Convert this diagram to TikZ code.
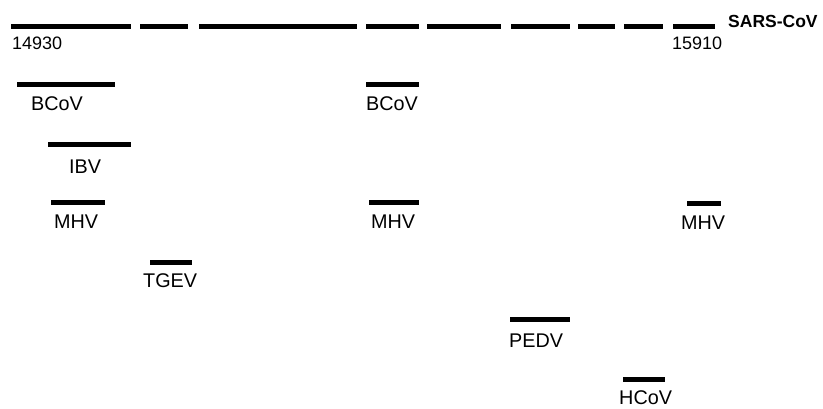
\documentclass[tikz,border=0pt]{standalone}
\usepackage{fontspec}
\setmainfont{Liberation Sans}
\begin{document}
\begin{tikzpicture}[x=1pt,y=-1pt,
  seg/.style={line width=5pt,line cap=butt,black},
  lbl/.style={anchor=base west,inner sep=0pt,font=\fontsize{19.8}{22}\selectfont},
  numlbl/.style={anchor=base west,inner sep=0pt,font=\fontsize{18}{20}\selectfont},
  genome/.style={anchor=base west,inner sep=0pt,font=\fontsize{17.5}{20}\selectfont\bfseries}]
\useasboundingbox (0,0) rectangle (823,408);
% SARS-CoV reference genome segments
\foreach \a/\b in {11/131,140/188,199/357,366/419,427/501,511/570,578/615,624/663,673/715}
  \draw[seg] (\a,26.5) -- (\b,26.5);
\node[genome] (sars) at (728,27) {SARS-CoV};
\node[numlbl] (start) at (12,49) {14930};
\node[numlbl] (stop) at (672,49) {15910};
% homologous regions in other coronaviruses
\draw[seg] (17,84.5) -- (115,84.5);
\node[lbl] (bcov1) at (31,110) {BCoV};
\draw[seg] (366,84.5) -- (419,84.5);
\node[lbl] (bcov2) at (366,110) {BCoV};
\draw[seg] (48,144.5) -- (131,144.5);
\node[lbl] (ibv) at (69,173) {IBV};
\draw[seg] (51,202) -- (105,202);
\node[lbl] (mhv1) at (54,228) {MHV};
\draw[seg] (369,202.5) -- (419,202.5);
\node[lbl] (mhv2) at (371,228) {MHV};
\draw[seg] (687,203) -- (721,203);
\node[lbl] (mhv3) at (681,229) {MHV};
\draw[seg] (150,262) -- (192,262);
\node[lbl] (tgev) at (143,287) {TGEV};
\draw[seg] (510,319.5) -- (570,319.5);
\node[lbl] (pedv) at (509,347) {PEDV};
\draw[seg] (623,379.5) -- (665,379.5);
\node[lbl] (hcov) at (619,404) {HCoV};
\end{tikzpicture}
\end{document}
